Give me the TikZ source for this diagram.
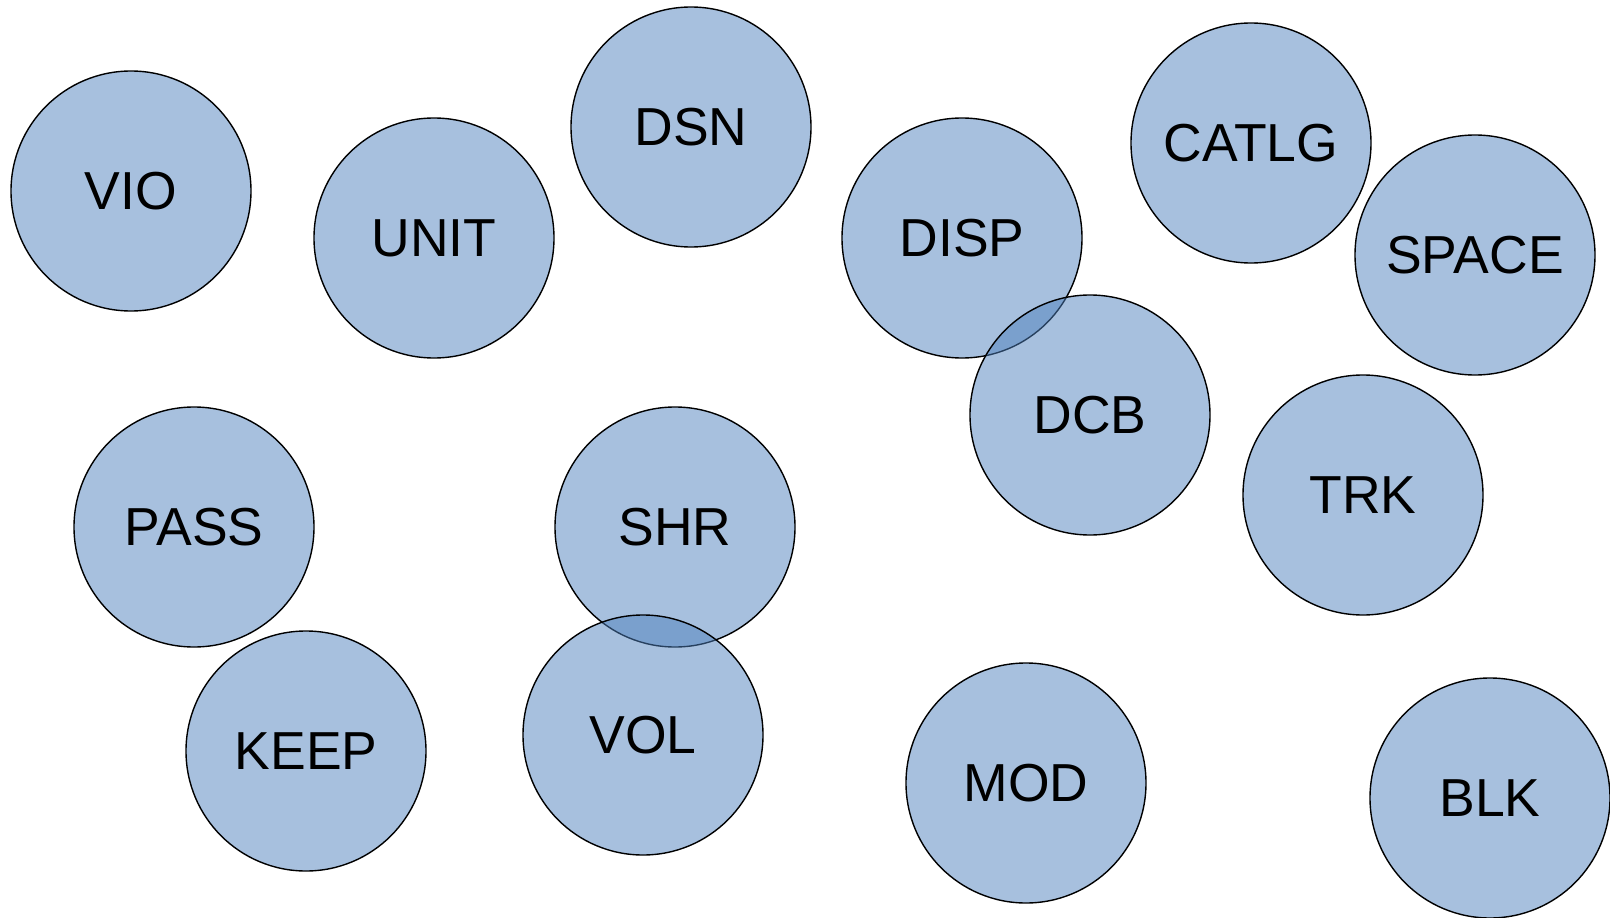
\documentclass[tikz,border=0pt]{standalone}
\usepackage{fontspec}
\setmainfont{Liberation Sans}
\definecolor{bubble}{HTML}{4F81BD}
\tikzset{
  bub/.style={circle, draw=black, line width=1.4pt, fill=bubble, fill opacity=0.5,
    text opacity=1, draw opacity=1, inner sep=0pt, minimum size=240pt,
    font=\fontsize{53.5}{60}\selectfont, text=black}
}
\begin{document}
\begin{tikzpicture}[x=1pt,y=-1pt]
\useasboundingbox (0,0) rectangle (1610,918);
\node[bub] (vio)   at (131,191)    {VIO};
\node[bub] (unit)  at (434,238)    {UNIT};
\node[bub] (dsn)   at (691,127)    {DSN};
\node[bub] (disp)  at (962,238)    {DISP};
\node[bub] (catlg) at (1251,143)   {CATLG};
\node[bub] (space) at (1475,255)   {SPACE};
\node[bub] (dcb)   at (1090,415)   {DCB};
\node[bub] (trk)   at (1363,495)   {TRK};
\node[bub] (pass)  at (194,527)    {PASS};
\node[bub] (shr)   at (675,527)    {SHR};
\node[bub] (keep)  at (306,751)    {KEEP};
\node[bub] (vol)   at (643,735)    {VOL};
\node[bub] (mod)   at (1026,783)   {MOD};
\node[bub] (blk)   at (1490,798)   {BLK};
\end{tikzpicture}
\end{document}
